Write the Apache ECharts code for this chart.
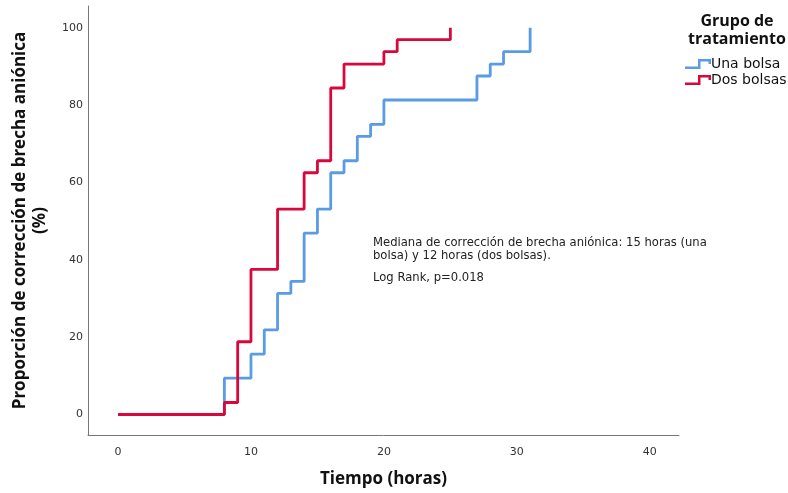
<!DOCTYPE html>
<html>
<head>
<meta charset="utf-8">
<script src="https://cdn.jsdelivr.net/npm/echarts@6/dist/echarts.min.js"></script>
<style>
html, body { margin: 0; padding: 0; background: #fff; }
#chart { width: 788px; height: 493px; }
</style>
</head>
<body>
<div id="chart"></div>
<script>
// Kaplan-Meier style cumulative curves (%)
const unaTimes = [0, 8, 10, 11, 12, 13, 14, 15, 16, 17, 18, 19, 20, 27, 28, 29, 31];
const unaVals = [0, 9.4, 15.6, 21.9, 31.3, 34.4, 46.9, 53.1, 62.5, 65.6, 71.9, 75.0, 81.3, 87.5, 90.6, 93.8, 100];
const dosTimes = [0, 8, 9, 10, 12, 14, 15, 16, 17, 20, 21, 25];
const dosVals = [0, 3.1, 18.8, 37.5, 53.1, 62.5, 65.6, 84.4, 90.6, 93.8, 96.9, 100];
const xTicks = [0, 10, 20, 30, 40];
const yTicks = [0, 20, 40, 60, 80, 100];

const pair = (ts, vs) => ts.map((t, i) => [t, vs[i]]);

let chart = echarts.init(document.getElementById('chart'));
// step shaped icon for the legend
const stepIcon = 'path://M0,7.5 L13,7.5 L13,0 L26,0 L26,5 L23.5,5 L23.5,2.5 L15.5,2.5 L15.5,10 L0,10 Z';

let option = {
    animation: false,
    color: ['#5a9be6', '#d9083c'],
    grid: { left: 88, right: 109, top: 6, bottom: 56 },
    graphic: [
        {
            type: 'text', x: 737, y: 12,
            style: { text: 'Grupo de\ntratamiento', align: 'center', fill: '#111',
                font: 'bold 16px "Open Sans"', lineHeight: 18 }
        },
        {
            type: 'text', x: 373, y: 236,
            style: { text: 'Mediana de corrección de brecha aniónica: 15 horas (una\nbolsa) y 12 horas (dos bolsas).',
                fill: '#222', font: '11.6px "DejaVu Sans"', lineHeight: 13 }
        },
        {
            type: 'text', x: 373, y: 272,
            style: { text: 'Log Rank, p=0.018', fill: '#222', font: '11.6px "DejaVu Sans"' }
        }
    ],
    legend: {
        orient: 'vertical',
        left: 680, top: 52,
        itemWidth: 26, itemHeight: 10, itemGap: 2,
        icon: stepIcon,
        textStyle: { fontFamily: 'DejaVu Sans', fontSize: 14, color: '#111', padding: [0, 0, 0, -5] },
        data: ['Una bolsa', 'Dos bolsas']
    },
    xAxis: {
        type: 'value',
        min: -2.26, max: 42.2,
        name: 'Tiempo (horas)',
        nameLocation: 'middle',
        nameGap: 36,
        nameTextStyle: { fontFamily: 'Open Sans', fontWeight: 'bold', fontSize: 17, color: '#111' },
        axisLine: { show: true, onZero: false, lineStyle: { color: '#777', width: 1 } },
        axisTick: { show: false },
        splitLine: { show: false },
        axisLabel: { customValues: xTicks, color: '#333', fontFamily: 'DejaVu Sans', fontSize: 11, margin: 12 }
    },
    yAxis: {
        type: 'value',
        min: -5.3, max: 105.6,
        name: 'Proporción de corrección de brecha aniónica\n(%)',
        nameLocation: 'middle',
        nameGap: 38,
        nameTextStyle: { fontFamily: 'Open Sans', fontWeight: 'bold', fontSize: 17, color: '#111', lineHeight: 20 },
        axisLine: { show: true, onZero: false, lineStyle: { color: '#777', width: 1 } },
        axisTick: { show: false },
        splitLine: { show: false },
        axisLabel: { customValues: yTicks, color: '#333', fontFamily: 'DejaVu Sans', fontSize: 11, margin: 5 }
    },
    series: [
        {
            name: 'Una bolsa', type: 'line', step: 'end',
            showSymbol: false, symbol: 'none',
            lineStyle: { width: 2.8 },
            data: pair(unaTimes, unaVals)
        },
        {
            name: 'Dos bolsas', type: 'line', step: 'end',
            showSymbol: false, symbol: 'none',
            lineStyle: { width: 2.8 },
            data: pair(dosTimes, dosVals)
        }
    ]
};
chart.setOption(option);
</script>
</body>
</html>
